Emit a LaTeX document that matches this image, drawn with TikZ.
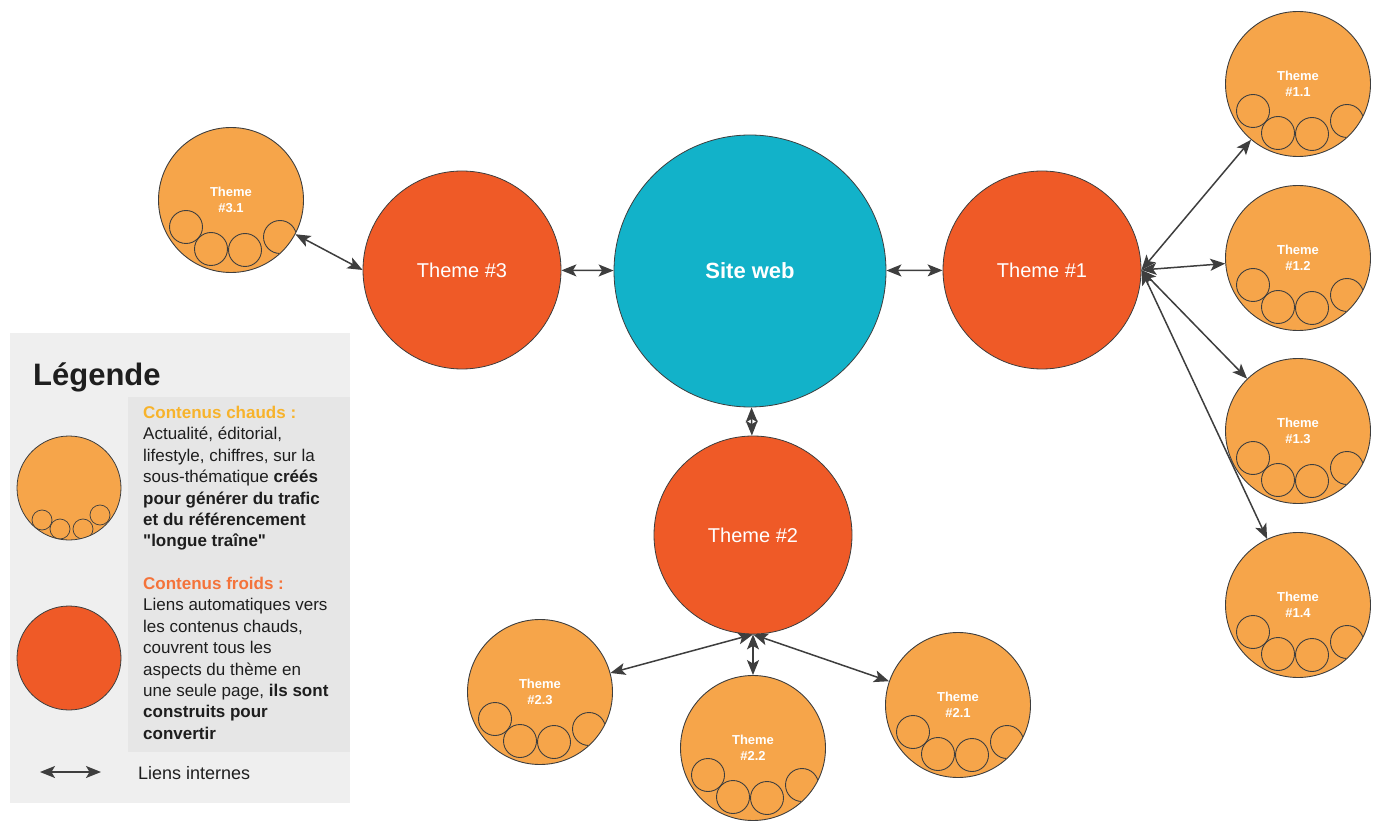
\documentclass[tikz,border=0pt]{standalone}
\usepackage{fontspec}
\setmainfont{Liberation Sans}
\usetikzlibrary{arrows.meta}
\definecolor{hotc}{HTML}{F6A54A}
\definecolor{coldc}{HTML}{EF5A27}
\definecolor{tealc}{HTML}{12B2C9}
\definecolor{linec}{HTML}{3E3E3E}
\definecolor{chaudc}{HTML}{F7B32B}
\definecolor{froidc}{HTML}{F4733A}
\definecolor{panelc}{HTML}{EFEFEF}
\definecolor{boxc}{HTML}{E6E6E6}
\definecolor{txtc}{HTML}{1E1E1E}
\newcommand\hotnode[4]{%
  \node[hotn] (#1) at (#2,#3) {Theme\\#4};
  \begin{scope}
    \clip (#1.center) circle (72pt);
    \foreach \dx/\dy in {-45/27,-20/49,14/50,49/37}
      \draw[smallc] ([shift={(\dx,\dy)}]#1.center) circle (16.5pt);
  \end{scope}}
\begin{document}
\begin{tikzpicture}[x=1pt,y=-1pt,
  bign/.style={circle, draw=linec, line width=0.8pt, fill=coldc, minimum size=198pt, inner sep=0pt, text=white, font=\fontsize{20}{24}\selectfont},
  hotn/.style={circle, draw=linec, line width=0.9pt, fill=hotc, minimum size=145pt, inner sep=0pt, text=white, align=center, font=\fontsize{13}{16}\selectfont\bfseries},
  smallc/.style={draw=linec, line width=0.9pt},
  tipk/.tip={Stealth[length=15pt,width=12pt,inset=3.5pt]},
  link/.style={draw=linec, line width=1.5pt, tipk-tipk},
  legtxt/.style={anchor=north west, inner sep=0pt, align=left, text=txtc, font=\fontsize{17}{21.4}\selectfont}
]
\useasboundingbox (0,0) rectangle (1390,834);
% legend panel
\fill[panelc] (10,333) rectangle (350,803);
\fill[boxc] (128,397) rectangle (350,752);
\node[anchor=base west, inner sep=0pt, text=txtc, font=\fontsize{31}{34}\selectfont\bfseries] (legtitle) at (33,385) {Légende};
\node[circle, draw=linec, line width=0.8pt, fill=hotc, minimum size=104pt, inner sep=0pt] (leghot) at (69,488) {};
\begin{scope}
  \clip (leghot.center) circle (52pt);
  \foreach \dx/\dy in {-27/32,-9/41,14/41,31/27}
    \draw[smallc, line width=0.7pt] ([shift={(\dx,\dy)}]leghot.center) circle (10pt);
\end{scope}
\node[circle, draw=linec, line width=0.8pt, fill=coldc, minimum size=104pt, inner sep=0pt] (legcold) at (69,658) {};
\node[legtxt] (legchaud) at (143,406) {\textcolor{chaudc}{\bfseries Contenus chauds :}\\
Actualité, éditorial,\\
lifestyle, chiffres, sur la\\
sous-thématique \textbf{créés}\\
\textbf{pour générer du trafic}\\
\textbf{et du référencement}\\
\textbf{\textquotedbl longue traîne\textquotedbl}};
\node[legtxt] (legfroid) at (143,577) {\textcolor{froidc}{\bfseries Contenus froids :}\\
Liens automatiques vers\\
les contenus chauds,\\
couvrent tous les\\
aspects du thème en\\
une seule page, \textbf{ils sont}\\
\textbf{construits pour}\\
\textbf{convertir}};
\coordinate (la) at (40,772);
\coordinate (lb) at (101,772);
\draw[link] (la) -- (lb);
\node[anchor=west, inner sep=0pt, text=txtc, font=\fontsize{18}{20}\selectfont] (legliens) at (138,773) {Liens internes};
% main nodes
\node[circle, draw=linec, line width=0.8pt, fill=tealc, minimum size=272pt, inner sep=0pt, text=white, font=\fontsize{22}{26}\selectfont\bfseries] (site) at (750,271) {Site web};
\node[bign] (t3) at (462,270) {Theme \#3};
\node[bign] (t1) at (1042,270) {Theme \#1};
\node[bign] (t2) at (753,535) {Theme \#2};
\hotnode{t31}{231}{200}{\#3.1}
\hotnode{t11}{1298}{84}{\#1.1}
\hotnode{t12}{1298}{258}{\#1.2}
\hotnode{t13}{1298}{431}{\#1.3}
\hotnode{t14}{1298}{605}{\#1.4}
\hotnode{t23}{540}{692}{\#2.3}
\hotnode{t22}{753}{748}{\#2.2}
\hotnode{t21}{958}{705}{\#2.1}
% links
\draw[link] (t3) -- (site);
\draw[link] (site) -- (t1);
\draw[link] (site) -- (t2);
\draw[link] (t3.west) -- (t31);
\draw[link] (t1.east) -- (t11);
\draw[link] (t1.east) -- (t12);
\draw[link] (t1.east) -- (t13);
\draw[link] (t1.east) -- (t14);
\draw[link] (t2.south) -- (t23);
\draw[link] (t2.south) -- (t22);
\draw[link] (t2.south) -- (t21);
\end{tikzpicture}
\end{document}
